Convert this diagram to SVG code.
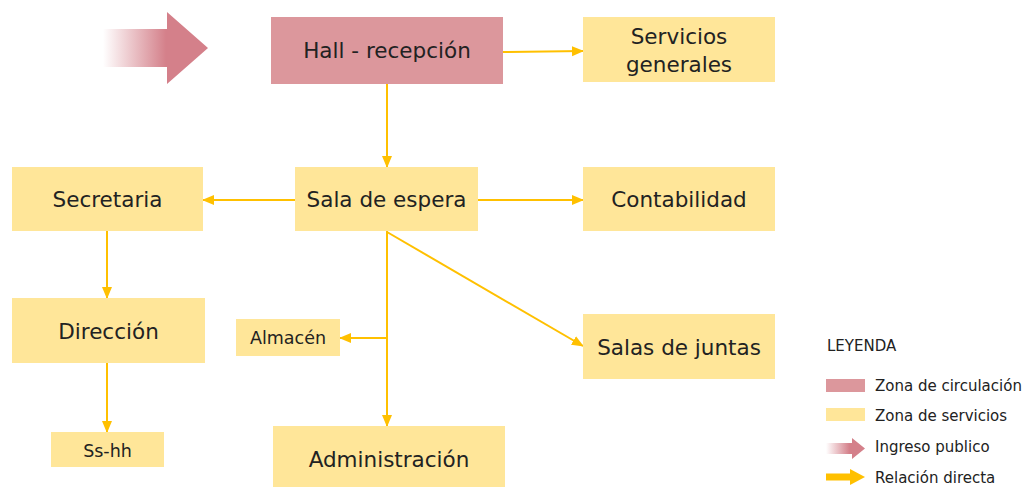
<svg xmlns="http://www.w3.org/2000/svg" width="1027" height="488" viewBox="0 0 1027 488">
<style>
.box-y{fill:#FFE699}
.box-p{fill:#DC979C}
.t{font-family:"DejaVu Sans","Liberation Sans",sans-serif;fill:#222;text-anchor:middle;font-size:21.5px}
.ts{font-size:17.5px}
.lt{font-family:"DejaVu Sans","Liberation Sans",sans-serif;fill:#222;font-size:15px}
.c{stroke:#FFC000;stroke-width:2;fill:none}
</style>
<defs>
<marker id="ah" markerUnits="userSpaceOnUse" markerWidth="12" markerHeight="12" viewBox="0 0 12 12" refX="11" refY="6" orient="auto">
<path d="M0,1 L12,6 L0,11 Z" fill="#FFC000"/>
</marker>
<linearGradient id="pg" x1="0" y1="0" x2="1" y2="0">
<stop offset="0" stop-color="#D4808A" stop-opacity="0"/>
<stop offset="0.6" stop-color="#D4808A" stop-opacity="1"/>
<stop offset="1" stop-color="#D4808A"/>
</linearGradient>
</defs>
<g id="ingreso-arrow">
<path d="M103,29 L167,29 L167,12 L208,48 L167,84 L167,67 L103,67 Z" fill="url(#pg)"/>
</g>
<g id="connectors">
<line class="c" x1="503" y1="52" x2="583" y2="51" marker-end="url(#ah)"/>
<line class="c" x1="387" y1="84" x2="387" y2="167" marker-end="url(#ah)"/>
<line class="c" x1="295" y1="200" x2="203" y2="200" marker-end="url(#ah)"/>
<line class="c" x1="478" y1="200" x2="583" y2="200" marker-end="url(#ah)"/>
<line class="c" x1="107" y1="231" x2="107" y2="298" marker-end="url(#ah)"/>
<line class="c" x1="107" y1="363" x2="107" y2="432" marker-end="url(#ah)"/>
<line class="c" x1="387" y1="231" x2="387" y2="426" marker-end="url(#ah)"/>
<line class="c" x1="387" y1="338" x2="340" y2="338" marker-end="url(#ah)"/>
<line class="c" x1="387" y1="232" x2="583" y2="346" marker-end="url(#ah)"/>
</g>
<g id="hall">
<rect class="box-p" x="271" y="17" width="232" height="67"/>
<text class="t" x="387" y="58">Hall - recepción</text>
</g>
<g id="servicios">
<rect class="box-y" x="583" y="17" width="192" height="65"/>
<text class="t" x="679" y="44">Servicios</text>
<text class="t" x="679" y="72">generales</text>
</g>
<g id="sala">
<rect class="box-y" x="295" y="167" width="183" height="64"/>
<text class="t" x="386.5" y="207">Sala de espera</text>
</g>
<g id="secretaria">
<rect class="box-y" x="12" y="167" width="191" height="64"/>
<text class="t" x="107.5" y="207">Secretaria</text>
</g>
<g id="contabilidad">
<rect class="box-y" x="583" y="167" width="192" height="64"/>
<text class="t" x="679" y="207">Contabilidad</text>
</g>
<g id="direccion">
<rect class="box-y" x="12" y="298" width="193" height="65"/>
<text class="t" x="108.5" y="339">Dirección</text>
</g>
<g id="almacen">
<rect class="box-y" x="236" y="319" width="104" height="37"/>
<text class="t ts" x="288" y="344">Almacén</text>
</g>
<g id="salas-juntas">
<rect class="box-y" x="583" y="314" width="192" height="65"/>
<text class="t" x="679" y="355">Salas de juntas</text>
</g>
<g id="sshh">
<rect class="box-y" x="51" y="432" width="113" height="35"/>
<text class="t ts" x="107.5" y="457">Ss-hh</text>
</g>
<g id="administracion">
<rect class="box-y" x="273" y="426" width="232" height="61"/>
<text class="t" x="389" y="467">Administración</text>
</g>
<g id="legend">
<text class="lt" x="827" y="351">LEYENDA</text>
<rect class="box-p" x="826" y="379" width="39" height="13"/>
<text class="lt" x="875" y="391">Zona de circulación</text>
<rect class="box-y" x="826" y="408" width="39" height="13"/>
<text class="lt" x="875" y="421">Zona de servicios</text>
<path d="M826,443 L852,443 L852,438 L865,448.5 L852,459 L852,454 L826,454 Z" fill="url(#pg)"/>
<text class="lt" x="875" y="452">Ingreso publico</text>
<path d="M826,473.5 L850,473.5 L850,469 L865,477 L850,485 L850,480.5 L826,480.5 Z" fill="#FFC000"/>
<text class="lt" x="875" y="483">Relación directa</text>
</g>
</svg>
